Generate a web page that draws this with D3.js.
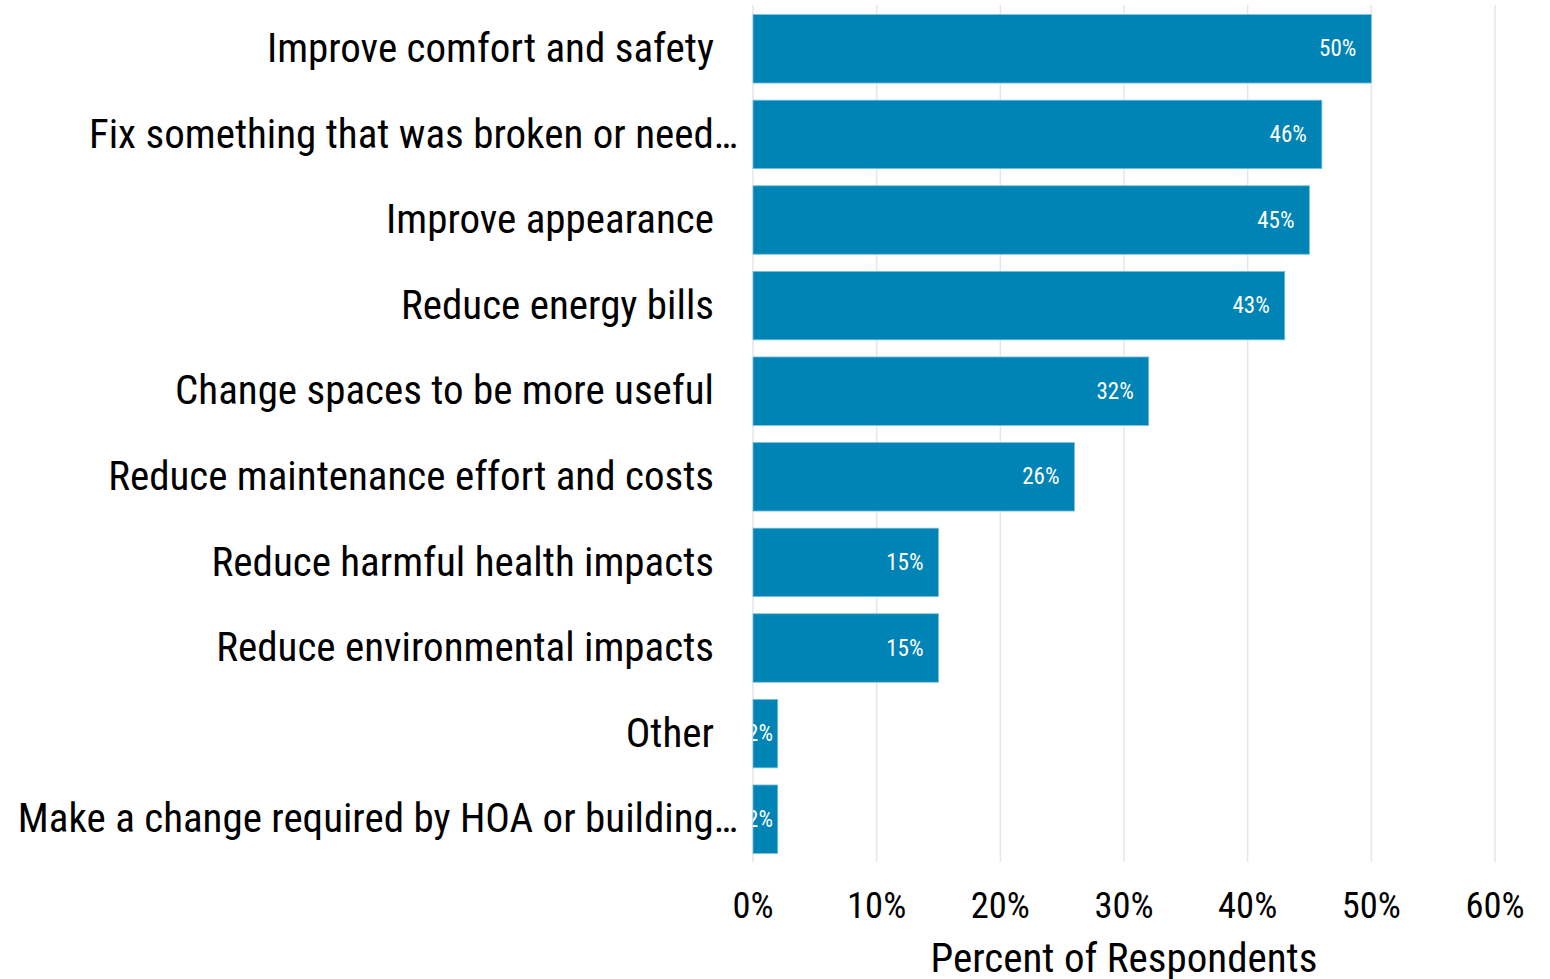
<!DOCTYPE html>
<html>
<head>
<meta charset="utf-8">
<script src="https://cdn.jsdelivr.net/npm/d3@7/dist/d3.min.js"></script>
<style>
  html, body { margin: 0; padding: 0; background: #fff; }
  text { font-family: "Roboto Condensed", "Liberation Sans Narrow", "DejaVu Sans Condensed", Roboto, sans-serif; }
</style>
</head>
<body>
<svg id="chart" width="1550" height="979"></svg>
<script>
const categories = [
  "Improve comfort and safety",
  "Fix something that was broken or need…",
  "Improve appearance",
  "Reduce energy bills",
  "Change spaces to be more useful",
  "Reduce maintenance effort and costs",
  "Reduce harmful health impacts",
  "Reduce environmental impacts",
  "Other",
  "Make a change required by HOA or building…"
];
const values = [50, 46, 45, 43, 32, 26, 15, 15, 2, 2];
const tickValues = [0, 10, 20, 30, 40, 50, 60];
const tickLabels = ["0%", "10%", "20%", "30%", "40%", "50%", "60%"];
const axisTitle = "Percent of Respondents";

const svg = d3.select("#chart");
const mLeft = 753, mRight = 1495, mTop = 6, mBottom = 862;

const x = d3.scaleLinear().domain([0, 60]).range([mLeft, mRight]);
const y = d3.scaleBand().domain(categories).range([mTop, mBottom]).paddingInner(0.2).paddingOuter(0.1);

// grid
svg.append("g").selectAll("line").data(tickValues).join("line")
  .attr("x1", d => x(d)).attr("x2", d => x(d))
  .attr("y1", mTop - 1).attr("y2", mBottom)
  .attr("stroke", "#e6e6e6").attr("stroke-width", 1.5);

svg.append("defs").append("clipPath").attr("id", "plotclip")
  .append("rect").attr("x", mLeft).attr("y", 0).attr("width", mRight - mLeft + 20).attr("height", mBottom);

const data = categories.map((c, i) => ({ c, v: values[i] }));

svg.append("g").selectAll("rect").data(data).join("rect")
  .attr("x", x(0)).attr("y", d => y(d.c))
  .attr("width", d => x(d.v) - x(0)).attr("height", y.bandwidth())
  .attr("fill", "#0083B5").attr("stroke", "#7fc0da").attr("stroke-width", 0.8);

svg.append("g").attr("clip-path", "url(#plotclip)").selectAll("text").data(data).join("text")
  .attr("x", d => Math.max(x(d.v) - 15, x(0) + 20)).attr("y", d => y(d.c) + y.bandwidth() / 2)
  .attr("dy", "0.33em").attr("text-anchor", "end")
  .attr("fill", "#fff").attr("font-size", 23)
  .text(d => d.v + "%");

// category labels (truncated labels overhang to the right, as in the original)
svg.append("g").selectAll("text").data(data).join("text")
  .attr("x", d => d.c.endsWith("…") ? 738 : 714).attr("y", d => y(d.c) + y.bandwidth() / 2)
  .attr("dy", "0.32em").attr("text-anchor", "end")
  .attr("fill", "#000").attr("font-size", 41)
  .text(d => d.c);

// tick labels
svg.append("g").selectAll("text").data(tickValues).join("text")
  .attr("x", d => x(d)).attr("y", 905)
  .attr("dy", "0.35em").attr("text-anchor", "middle")
  .attr("fill", "#000").attr("font-size", 36.5)
  .text((d, i) => tickLabels[i]);

svg.append("text")
  .attr("x", (mLeft + mRight) / 2).attr("y", 958).attr("dy", "0.35em")
  .attr("text-anchor", "middle").attr("fill", "#000").attr("font-size", 41)
  .text(axisTitle);
</script>
</body>
</html>
